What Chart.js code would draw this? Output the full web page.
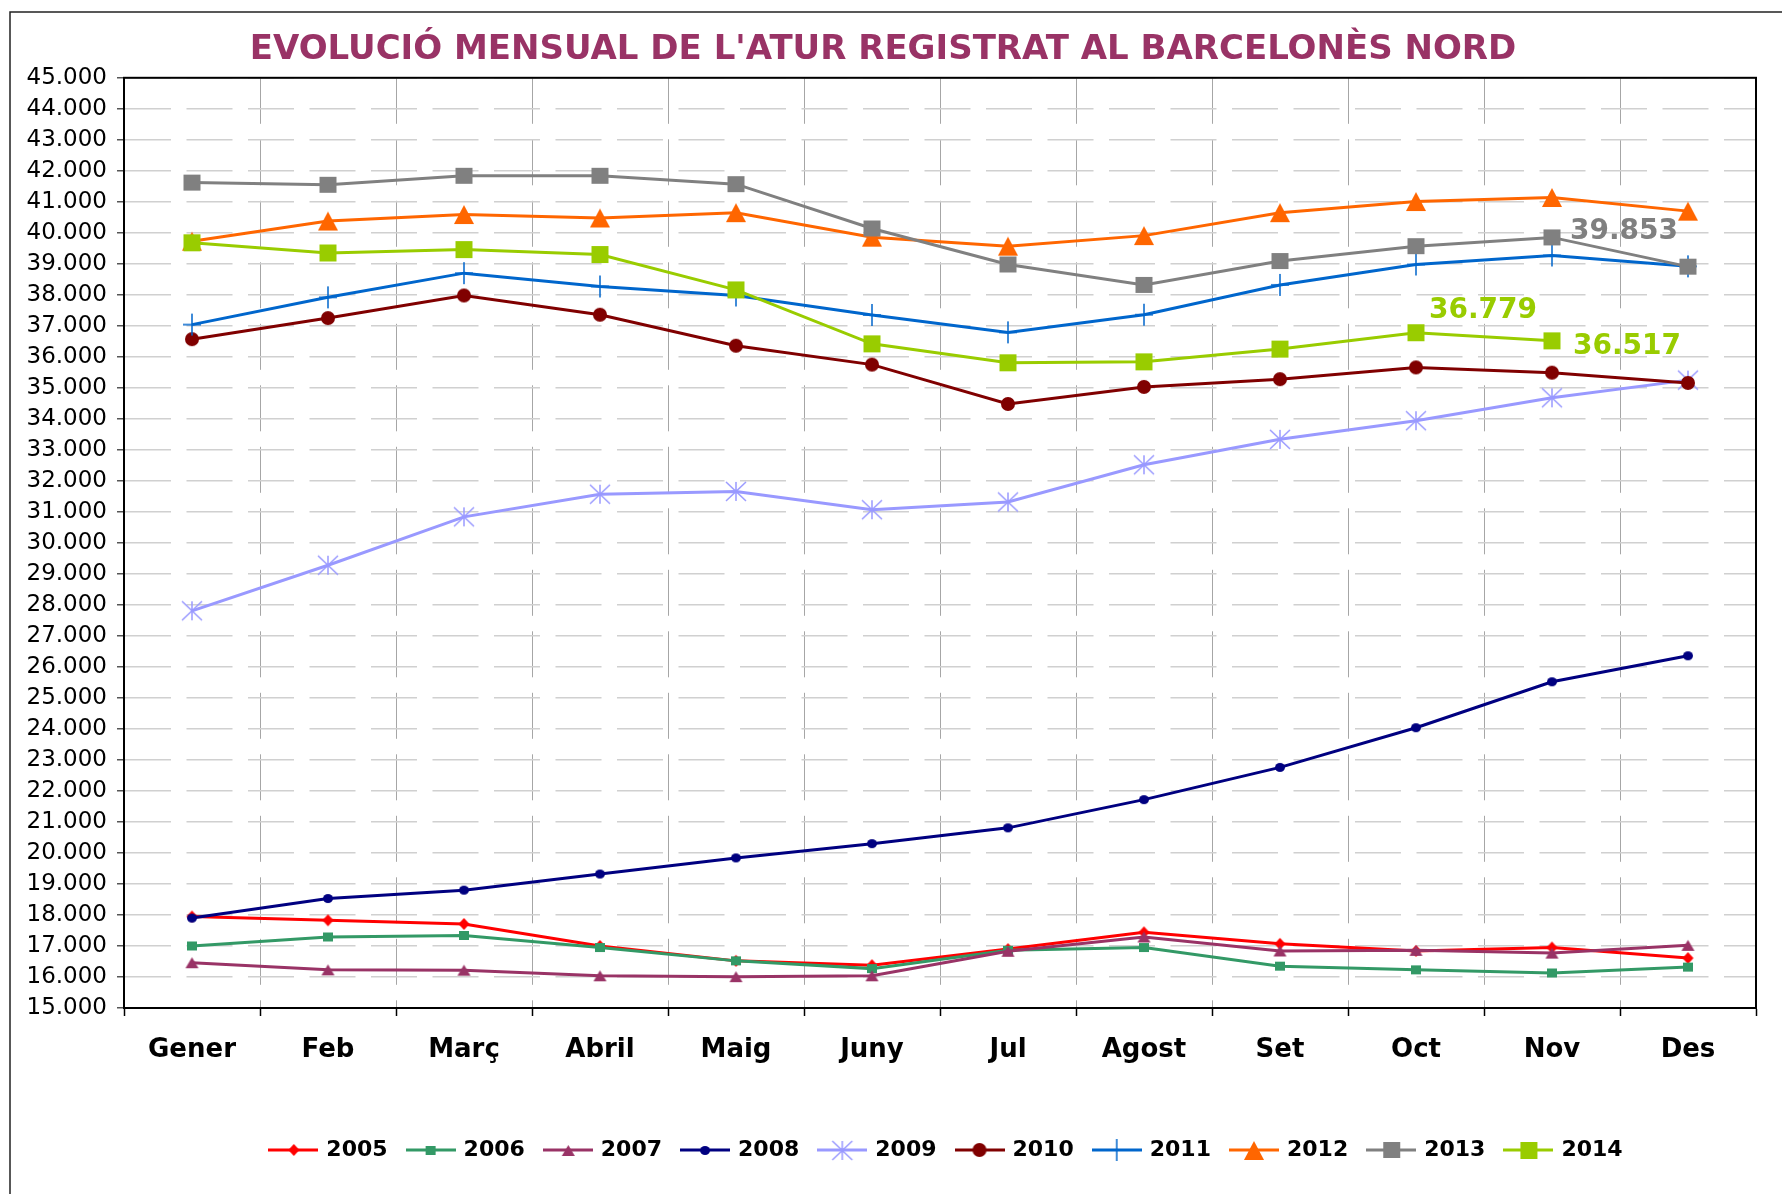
<!DOCTYPE html>
<html>
<head>
<meta charset="utf-8">
<title>Evolució mensual de l'atur registrat al Barcelonès Nord</title>
<script src="https://cdn.jsdelivr.net/npm/chart.js@4.4.1/dist/chart.umd.min.js"></script>
<style>
  html, body { margin: 0; padding: 0; background: #fff; }
  #wrap { position: relative; width: 1782px; height: 1194px; overflow: hidden; }
  canvas { display: block; }
</style>
</head>
<body>
<div id="wrap"><canvas id="aturChart" width="1782" height="1194"></canvas></div>
<script>
// Categories and axis range
const months = ['Gener', 'Feb', 'Març', 'Abril', 'Maig', 'Juny', 'Jul', 'Agost', 'Set', 'Oct', 'Nov', 'Des'];
const years = ['2005', '2006', '2007', '2008', '2009', '2010', '2011', '2012', '2013', '2014'];
const yMin = 15000;
const yMax = 45000;
const yStep = 1000;

// Registered unemployment, one array per year
const atur2005 = [17950, 17830, 17710, 17000, 16520, 16380, 16900, 17440, 17070, 16840, 16950, 16610];
const atur2006 = [17000, 17290, 17340, 16950, 16520, 16270, 16860, 16950, 16350, 16230, 16130, 16320];
const atur2007 = [16460, 16230, 16220, 16040, 16010, 16040, 16830, 17290, 16840, 16860, 16770, 17020];
const atur2008 = [17900, 18530, 18800, 19320, 19840, 20300, 20810, 21720, 22760, 24040, 25520, 26360];
const atur2009 = [27810, 29280, 30840, 31570, 31660, 31070, 31320, 32520, 33340, 33940, 34680, 35250];
const atur2010 = [36570, 37250, 37980, 37360, 36360, 35750, 34480, 35030, 35280, 35660, 35490, 35160];
const atur2011 = [37040, 37920, 38700, 38270, 37980, 37350, 36790, 37360, 38320, 38980, 39270, 38920];
const atur2012 = [39730, 40380, 40590, 40480, 40650, 39860, 39570, 39910, 40650, 41010, 41140, 40700];
const atur2013 = [41620, 41550, 41840, 41840, 41570, 40140, 38980, 38320, 39090, 39570, 39853, 38910];
const atur2014 = [39680, 39350, 39460, 39300, 38160, 36420, 35810, 35840, 36250, 36779, 36517];

const seriesData = [atur2005, atur2006, atur2007, atur2008, atur2009, atur2010, atur2011, atur2012, atur2013, atur2014];
const colors = ['#FF0000', '#339966', '#993366', '#000080', '#9999FF', '#800000', '#0066CC', '#FF6600', '#808080', '#99CC00'];
// marker shape, width, height
const markers = [
  ['diamond', 11, 12], ['square', 10, 9], ['triangle', 13, 11], ['circle', 10, 9], ['asterisk', 20, 19],
  ['circle', 14, 14], ['plus', 18, 22], ['triangle', 20, 19], ['square', 17, 16], ['square', 17, 17]
];

// data labels shown on the chart: dataset index, point index, offset
const valueLabels = [
  { ds: 8, idx: 10, dx: 18, dy: -6 },
  { ds: 9, idx: 9, dx: 13, dy: -22 },
  { ds: 9, idx: 10, dx: 21, dy: 6 }
];

const FONT = "'DejaVu Sans', Verdana, sans-serif";

function fmt(v) {
  return String(v).replace(/\B(?=(\d{3})+(?!\d))/g, '.');
}

function makeMarker(shape, color, w, h) {
  const c = document.createElement('canvas');
  c.width = w + 4;
  c.height = h + 4;
  const g = c.getContext('2d');
  const cx = c.width / 2, cy = c.height / 2;
  g.fillStyle = color;
  g.strokeStyle = color;
  g.lineWidth = 1.5;
  g.beginPath();
  if (shape === 'diamond') {
    g.moveTo(cx, cy - h / 2); g.lineTo(cx + w / 2, cy); g.lineTo(cx, cy + h / 2); g.lineTo(cx - w / 2, cy);
    g.closePath(); g.fill();
  } else if (shape === 'square') {
    g.fillRect(cx - w / 2, cy - h / 2, w, h);
  } else if (shape === 'triangle') {
    g.moveTo(cx, cy - h / 2); g.lineTo(cx + w / 2, cy + h / 2); g.lineTo(cx - w / 2, cy + h / 2);
    g.closePath(); g.fill();
  } else if (shape === 'circle') {
    g.ellipse(cx, cy, w / 2, h / 2, 0, 0, Math.PI * 2); g.fill();
  } else if (shape === 'asterisk') {
    g.moveTo(cx - w / 2, cy - h / 2); g.lineTo(cx + w / 2, cy + h / 2);
    g.moveTo(cx + w / 2, cy - h / 2); g.lineTo(cx - w / 2, cy + h / 2);
    g.moveTo(cx, cy - h / 2); g.lineTo(cx, cy + h / 2);
    g.stroke();
  } else if (shape === 'plus') {
    g.moveTo(cx - w / 2, cy); g.lineTo(cx + w / 2, cy);
    g.moveTo(cx, cy - h / 2); g.lineTo(cx, cy + h / 2);
    g.stroke();
  }
  return c;
}

function makeLegendIcon(marker, color) {
  const c = document.createElement('canvas');
  c.width = 50;
  c.height = 26;
  const g = c.getContext('2d');
  g.strokeStyle = color;
  g.lineWidth = 3;
  g.beginPath();
  g.moveTo(0, 13); g.lineTo(50, 13);
  g.stroke();
  g.drawImage(marker, Math.round(25 - marker.width / 2), Math.round(13 - marker.height / 2));
  return c;
}

const pointImages = markers.map((m, i) => makeMarker(m[0], colors[i], m[1], m[2]));
const legendIcons = pointImages.map((img, i) => makeLegendIcon(img, colors[i]));

const datasets = years.map((y, i) => ({
  label: y,
  data: seriesData[i],
  borderColor: colors[i],
  backgroundColor: colors[i],
  borderWidth: 3,
  pointStyle: pointImages[i],
  pointRadius: 5,
  pointHoverRadius: 5,
  tension: 0,
  fill: false,
  order: years.length - i   // later years on top, like the original
}));

// white page, outer frame and black plot border
const framePlugin = {
  id: 'frame',
  afterLayout(chart) {
    // legend sits a little right of the plot centre in the original
    chart.legend.left += 7;
    chart.legend.right += 7;
  },
  beforeDraw(chart) {
    const c = chart.ctx;
    c.save();
    c.fillStyle = '#fff';
    c.fillRect(0, 0, chart.width, chart.height);
    c.strokeStyle = '#222';
    c.lineWidth = 1.5;
    c.strokeRect(10, 12, chart.width + 50, chart.height + 50);
    c.restore();
  },
  afterDatasetsDraw(chart) {
    const a = chart.chartArea;
    const c = chart.ctx;
    c.save();
    c.strokeStyle = '#000';
    c.lineWidth = 2;
    c.strokeRect(a.left, a.top, a.right - a.left, a.bottom - a.top);
    c.restore();
  }
};

// value labels next to a few points
const valueLabelPlugin = {
  id: 'valueLabels',
  afterDatasetsDraw(chart) {
    const c = chart.ctx;
    c.save();
    c.font = 'bold 28px ' + FONT;
    c.textAlign = 'left';
    c.textBaseline = 'middle';
    valueLabels.forEach(l => {
      const pt = chart.getDatasetMeta(l.ds).data[l.idx];
      c.fillStyle = colors[l.ds];
      c.fillText(fmt(seriesData[l.ds][l.idx]), pt.x + l.dx, pt.y + l.dy);
    });
    c.restore();
  }
};

new Chart(document.getElementById('aturChart'), {
  type: 'line',
  data: { labels: months, datasets },
  options: {
    responsive: false,
    animation: false,
    devicePixelRatio: 1,
    layout: { padding: { left: 10, right: 26, top: 0, bottom: 23 } },
    plugins: {
      title: {
        display: true,
        text: "EVOLUCIÓ MENSUAL DE L'ATUR REGISTRAT AL BARCELONÈS NORD",
        color: '#993366',
        font: { family: FONT, size: 34, weight: 'bold' },
        padding: { top: 30, bottom: 7 }
      },
      legend: {
        position: 'bottom',
        fullSize: false,
        labels: {
          usePointStyle: true,
          pointStyleWidth: 44,
          boxHeight: 22,
          padding: 21,
          color: '#000',
          font: { family: FONT, size: 22, weight: 'bold' },
          generateLabels: chart => chart.data.datasets.map((ds, i) => ({
            text: ds.label,
            pointStyle: legendIcons[i],
            fillStyle: ds.borderColor,
            strokeStyle: ds.borderColor,
            fontColor: '#000',
            lineWidth: 1,
            hidden: false,
            datasetIndex: i
          }))
        }
      },
      tooltip: { enabled: false }
    },
    scales: {
      x: {
        offset: true,
        grid: { offset: true, color: '#a6a6a6', lineWidth: 1, tickColor: '#000', tickLength: 8, tickWidth: 1.5 },
        border: { color: '#000', width: 2, dash: [46, 15.5] },
        ticks: { color: '#000', font: { family: FONT, size: 26, weight: 'bold' }, padding: 19, maxRotation: 0, autoSkip: false },
        afterFit: s => { s.height = 110; }
      },
      y: {
        min: yMin,
        max: yMax,
        ticks: { stepSize: yStep, callback: v => fmt(v), color: '#000', font: { family: FONT, size: 23 }, padding: 10, autoSkip: false },
        grid: { color: '#d0d0d0', lineWidth: 1.5, tickColor: '#555', tickLength: 7 },
        border: { color: '#000', width: 2, dash: [46, 15.5] },
        afterFit: s => { s.width = 114; }
      }
    }
  },
  plugins: [framePlugin, valueLabelPlugin]
});
</script>
</body>
</html>
